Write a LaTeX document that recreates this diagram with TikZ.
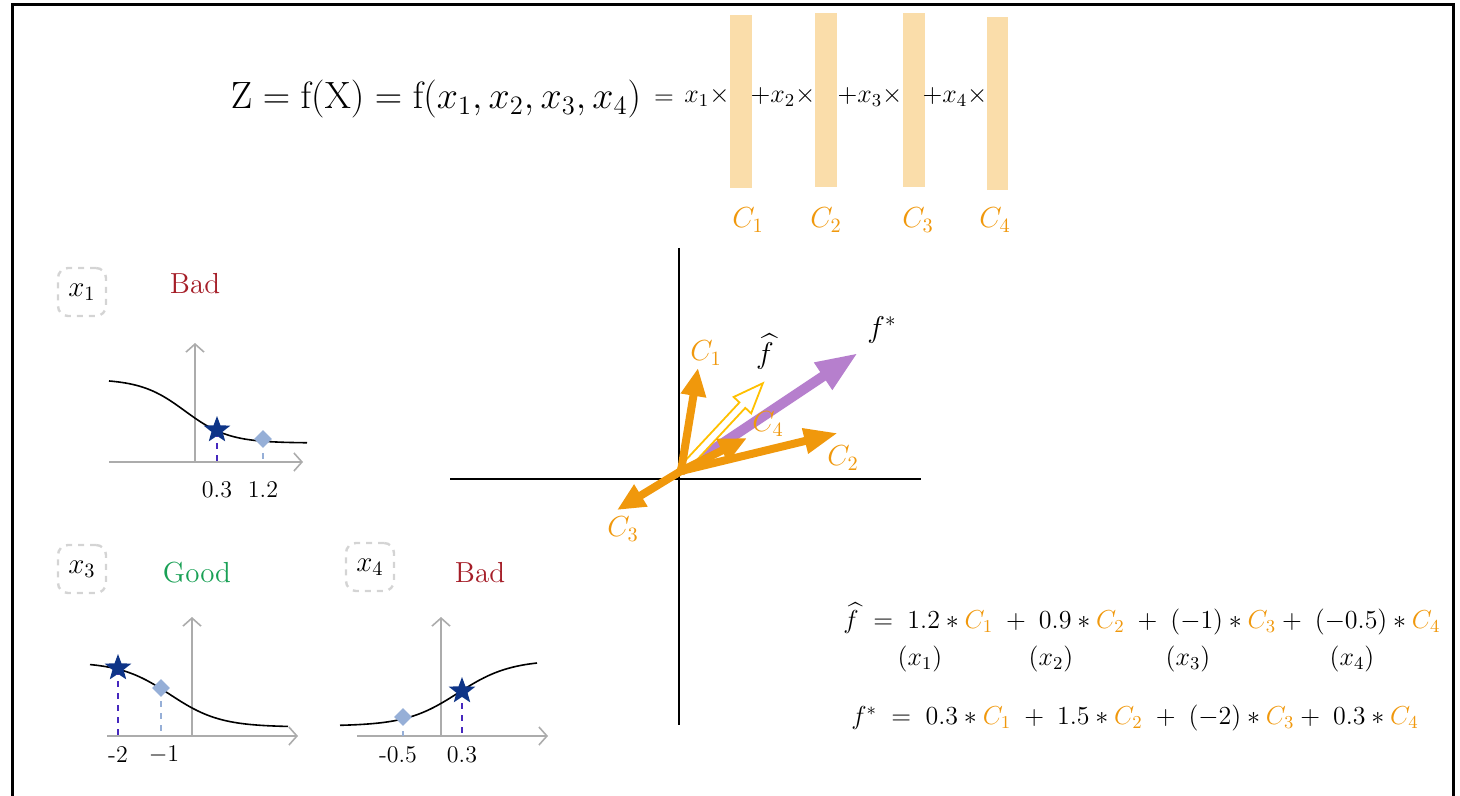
\documentclass[tikz,border=0pt]{standalone}
\usepackage{fix-cm}
\usepackage{amsmath,amssymb}
\usepackage{xcolor}
\usepackage{tikz}
\usetikzlibrary{positioning,arrows.meta,calc,shapes.geometric}
\definecolor{vecorange}{RGB}{240,152,12}
\definecolor{barbeige}{RGB}{250,221,170}
\definecolor{fstarpurple}{RGB}{182,127,205}
\definecolor{fhatgold}{RGB}{255,192,0}
\definecolor{stardark}{RGB}{14,52,135}
\definecolor{diamondblue}{RGB}{150,175,215}
\definecolor{badred}{RGB}{165,30,40}
\definecolor{goodgreen}{RGB}{25,160,85}
\definecolor{axisgray}{RGB}{172,172,172}
\definecolor{boxgray}{RGB}{212,212,212}
\definecolor{dashpurple}{RGB}{70,40,190}
\newcommand{\oC}[1]{\textcolor{vecorange}{C_{#1}}}
\tikzset{
  barcol/.style={fill=barbeige,draw=none},
  clabel/.style={text=vecorange,font=\fontsize{14.5}{17}\selectfont,inner sep=1pt},
  termlbl/.style={font=\fontsize{13}{15}\selectfont,inner sep=1pt},
  vec/.style={draw=vecorange,line width=4pt,-{Triangle[length=14pt,width=12pt]}},
  fstarvec/.style={draw=fstarpurple,line width=5pt,-{Triangle[length=21pt,width=15pt]}},
  hollowvec/.style={draw=fhatgold,fill=white,line width=0.9pt,line join=miter},
  plotaxis/.style={draw=axisgray,line width=0.8pt,-{Straight Barb[length=4pt,width=9pt]}},
  varbox/.style={draw=boxgray,dashed,line width=1.2pt,rounded corners=5pt,minimum size=24pt,font=\fontsize{14.5}{17}\selectfont},
  verdict/.style={font=\fontsize{14.5}{17}\selectfont},
  ticklbl/.style={font=\fontsize{12}{14}\selectfont},
  starmark/.style={star,star points=5,star point ratio=2.4,fill=stardark,draw=none,minimum size=14pt,inner sep=0pt},
  diamark/.style={diamond,fill=diamondblue,draw=none,minimum size=9pt,inner sep=0pt},
  stardrop/.style={draw=dashpurple,dashed,line width=0.8pt},
  diadrop/.style={draw=diamondblue,dashed,line width=0.8pt},
  eqline/.style={font=\fontsize{13}{15}\selectfont,inner sep=1pt},
}
\begin{document}
\begin{tikzpicture}[x=0.5pt,y=-0.5pt]
  \useasboundingbox (0,0) rectangle (1460,796);
  % frame
  \draw[line width=1.5pt] (12,796) -- (12,5) -- (1453,5) -- (1453,796);
  % top formula
  \node (eqZ) at (436,99) {\fontsize{19}{23}\selectfont $\mathrm{Z}=\mathrm{f}(\mathrm{X})=\mathrm{f}(x_1,x_2,x_3,x_4)$};
  \node[termlbl] (eqsign) at (664,100) {$=$};
  \fill[barcol] (730,15) rectangle (752,188);
  \fill[barcol] (815,13) rectangle (837,187);
  \fill[barcol] (903,13) rectangle (925,187);
  \fill[barcol] (987,17) rectangle (1008,190);
  \node[termlbl] (t1) at (707,97) {$x_1\times$};
  \node[termlbl] (t2) at (783,97) {$+x_2\times$};
  \node[termlbl] (t3) at (870,97) {$+x_3\times$};
  \node[termlbl] (t4) at (955,97) {$+x_4\times$};
  \node[clabel] (b1) at (748,220) {$C_1$};
  \node[clabel] (b2) at (826,220) {$C_2$};
  \node[clabel] (b3) at (918,220) {$C_3$};
  \node[clabel] (b4) at (995,220) {$C_4$};
  % plot x1
  \node[varbox] (box1) at (82,292) {$x_1$};
  \node[verdict,text=badred] (v1) at (195,284) {Bad};
  \draw[plotaxis] (195,462) -- (195,343);
  \draw[plotaxis] (109,462) -- (303,462);
  \draw[line width=0.8pt] plot[domain=109:307,samples=60] (\x,{379+64/(1+exp(-(\x-185)/22))});
  \draw[stardrop] (217,431) -- (217,462);
  \draw[diadrop] (263,441) -- (263,462);
  \node[diamark] (d1) at (263,439) {};
  \node[starmark] (s1) at (217,430) {};
  \node[ticklbl] (k1) at (217,490) {0.3};
  \node[ticklbl] (k2) at (263,490) {1.2};
  % plot x3
  \node[varbox] (box3) at (82,569) {$x_3$};
  \node[verdict,text=goodgreen] (v3) at (197,573) {Good};
  \draw[plotaxis] (192,736) -- (192,617);
  \draw[plotaxis] (107,736) -- (298,736);
  \draw[line width=0.8pt] plot[domain=90:288,samples=60] (\x,{662+65/(1+exp(-(\x-170)/25))});
  \draw[stardrop] (118,669) -- (118,736);
  \draw[diadrop] (161,689) -- (161,736);
  \node[diamark] (d3) at (161,688) {};
  \node[starmark] (s3) at (118,668) {};
  \node[ticklbl] (k3) at (118,755) {-2};
  \node[ticklbl] (k4) at (164,755) {$-1$};
  % plot x4
  \node[varbox] (box4) at (370,567) {$x_4$};
  \node[verdict,text=badred] (v4) at (480,573) {Bad};
  \draw[plotaxis] (441,736) -- (441,617);
  \draw[plotaxis] (357,736) -- (548,736);
  \draw[line width=0.8pt] plot[domain=340:537,samples=60] (\x,{726-66/(1+exp(-(\x-458)/26))});
  \draw[stardrop] (462,691) -- (462,736);
  \draw[diadrop] (403,719) -- (403,736);
  \node[diamark] (d4) at (403,717) {};
  \node[starmark] (s4) at (462,691) {};
  \node[ticklbl] (k5) at (398,755) {-0.5};
  \node[ticklbl] (k6) at (462,755) {0.3};
  % vector space
  \draw[line width=0.8pt] (679,248) -- (679,725);
  \draw[line width=0.8pt] (450,479) -- (921,479);
  \coordinate (o) at (681,471);
  \coordinate (c1) at (698,368);
  \coordinate (c2) at (838,433);
  \coordinate (c3) at (617,510);
  \coordinate (c4) at (747,438);
  \coordinate (fs) at (858,353);
  \draw[fstarvec] (o) -- (fs);
  \begin{scope}[shift={(o)},rotate=47]
    \draw[hollowvec] (0,-4) -- (90,-4) -- (90,-12) -- (120,0) -- (90,12) -- (90,4) -- (0,4) -- cycle;
  \end{scope}
  \draw[vec] (o) -- (c1);
  \draw[vec,-{Triangle[length=17pt,width=12pt]}] (o) -- (c2);
  \draw[vec] (o) -- (c3);
  \draw[vec] (o) -- (c4);
  \node[clabel] (l1) at (706,353) {$C_1$};
  \node[clabel] (l2) at (843,458) {$C_2$};
  \node[clabel] (l3) at (623,529) {$C_3$};
  \node[clabel] (l4) at (768,424) {$C_4$};
  \node[font=\fontsize{15}{17}\selectfont,inner sep=1pt] (lh) at (765,352) {$\widehat{f}$};
  \node[font=\fontsize{15}{17}\selectfont,inner sep=1pt] (ls) at (882,330) {$f^{*}$};
  % equations
  \node[eqline] (eqhat) at (1142,619) {$\widehat{f}\;=\;1.2\ast\oC{1}\;+\;0.9\ast\oC{2}\;+\;(-1)\ast\oC{3}+\;(-0.5)\ast\oC{4}$};
  \node[eqline] (a1) at (920,659) {$(x_1)$};
  \node[eqline] (a2) at (1051,659) {$(x_2)$};
  \node[eqline] (a3) at (1188,659) {$(x_3)$};
  \node[eqline] (a4) at (1352,659) {$(x_4)$};
  \node[eqline] (eqstar) at (1135,718) {$f^{*}\;=\;0.3\ast\oC{1}\;+\;1.5\ast\oC{2}\;+\;(-2)\ast\oC{3}+\;0.3\ast\oC{4}$};
\end{tikzpicture}
\end{document}
